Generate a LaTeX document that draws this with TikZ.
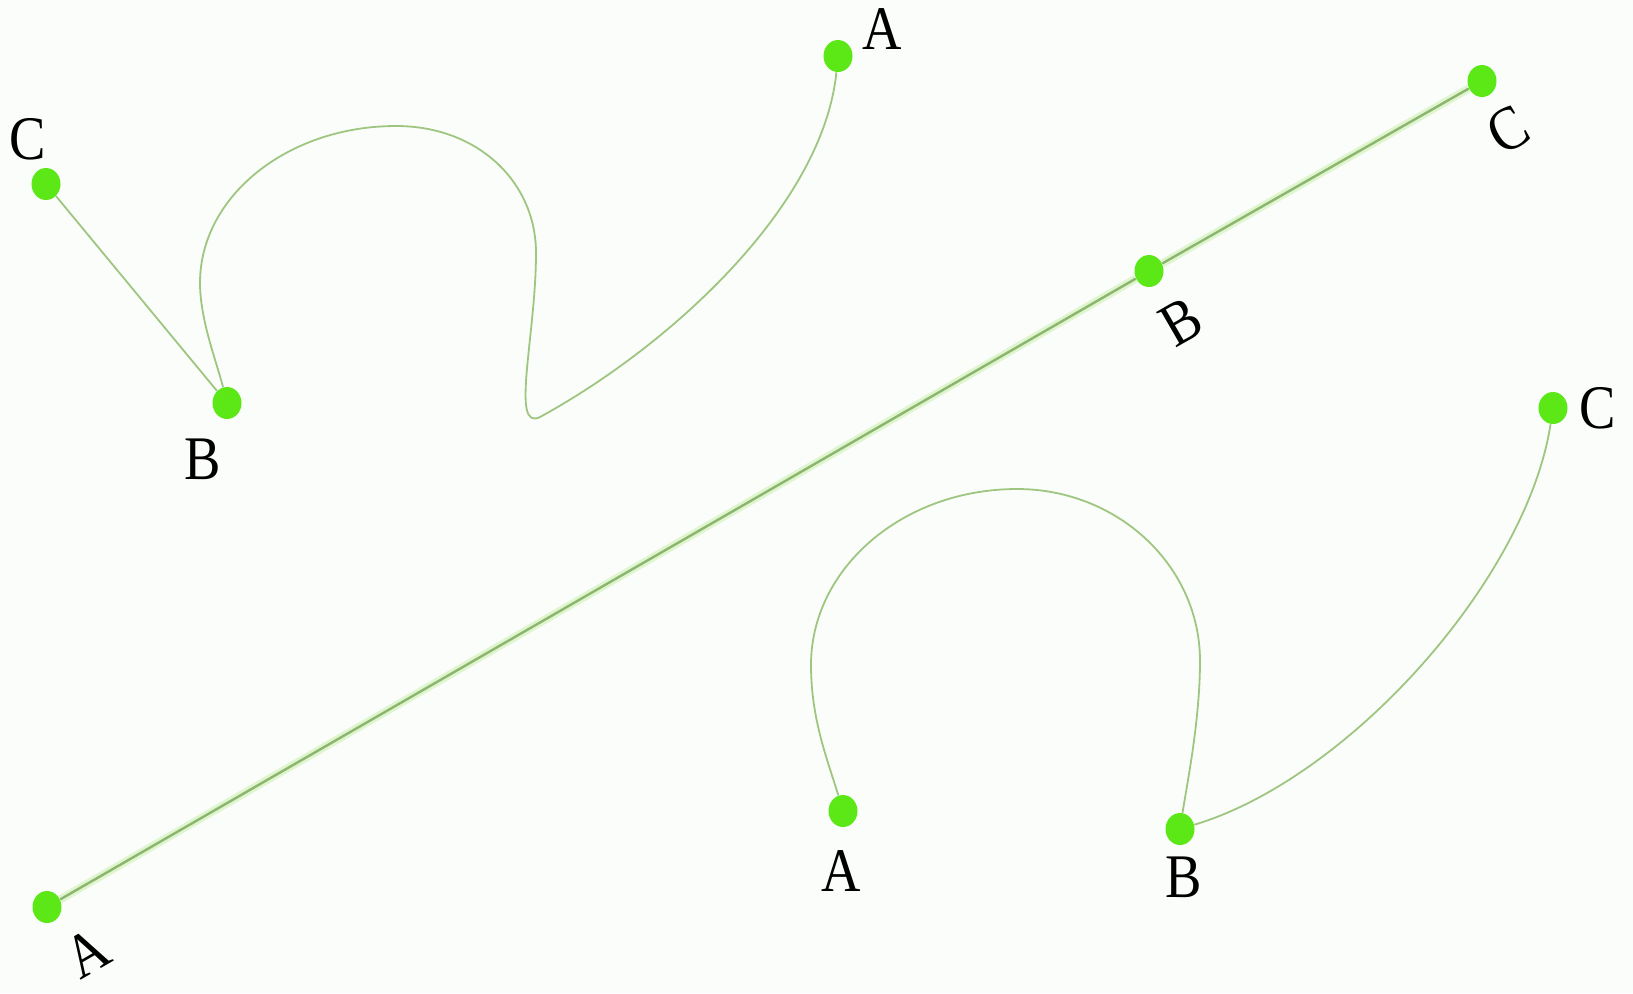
\documentclass[tikz,border=0pt]{standalone}
\usepackage{fontspec}
\usepackage{graphicx}
\setmainfont{Liberation Serif}
\usetikzlibrary{shapes.geometric}
\definecolor{dotgreen}{RGB}{92,232,22}
\definecolor{linegreen}{RGB}{158,198,128}
\definecolor{longgreen}{RGB}{140,182,112}
\definecolor{glowgreen}{RGB}{222,245,205}
\definecolor{bgcol}{RGB}{251,253,250}
\newcommand{\lbltext}[1]{\scalebox{0.88}[1]{#1}}
\begin{document}
\begin{tikzpicture}[x=0.5pt,y=-0.5pt,
  pt/.style={ellipse,fill=dotgreen,draw=none,minimum width=14.5pt,minimum height=16pt,inner sep=0pt},
  lab/.style={inner sep=0pt,font=\fontsize{31}{36}\selectfont,text=black},
  curveline/.style={draw=linegreen,line width=0.9pt},
  glowline/.style={draw=glowgreen,line width=4pt},
  longline/.style={draw=longgreen,line width=1.2pt}]
\fill[bgcol] (0,0) rectangle (1633,993);
\useasboundingbox (0,0) rectangle (1633,993);

% ---- top-left group
\node[pt] (tlC) at (46,184) {};
\node[pt] (tlB) at (227,403) {};
\node[pt] (tlA) at (838,56) {};
\coordinate (tlL) at (200,283);
\coordinate (tlT) at (396,126);
\coordinate (tlR) at (536,253);
\coordinate (tlD) at (540,417);
\node[lab] (tlClab) at (28,139) {\lbltext{C}};
\node[lab] (tlBlab) at (203,459) {\lbltext{B}};
\node[lab] (tlAlab) at (882,29) {\lbltext{A}};
\draw[curveline] (tlC) -- (tlB);
\draw[curveline] (tlB) .. controls (217,363) and (200,320) .. (tlL)
  .. controls (200,196) and (288,126) .. (tlT)
  .. controls (478,126) and (536,182) .. (tlR)
  .. controls (536,335) and (510,432) .. (tlD)
  .. controls (670,346) and (823,206) .. (tlA);

% ---- long straight line group
\node[pt] (lnA) at (47,907) {};
\node[pt] (lnB) at (1149,271) {};
\node[pt] (lnC) at (1482,81) {};
\draw[glowline] (lnA) -- (lnB);
\draw[glowline] (lnB) -- (lnC);
\draw[longline] (lnA) -- (lnB);
\draw[longline] (lnB) -- (lnC);
\node[lab,rotate=30] (lnAlab) at (87,953) {\lbltext{A}};
\node[lab,rotate=30] (lnBlab) at (1181,322) {\lbltext{B}};
\node[lab,rotate=30] (lnClab) at (1508,130) {\lbltext{C}};

% ---- bottom-right group
\node[pt] (brA) at (843,811) {};
\node[pt] (brB) at (1180,829) {};
\node[pt] (brC) at (1553,408) {};
\coordinate (brL) at (811,665);
\coordinate (brT) at (1017,489);
\coordinate (brR) at (1200,661);
\node[lab] (brAlab) at (841,871) {\lbltext{A}};
\node[lab] (brBlab) at (1184,877) {\lbltext{B}};
\node[lab] (brClab) at (1598,408) {\lbltext{C}};
\draw[curveline] (brA) .. controls (828,761) and (811,720) .. (brL)
  .. controls (811,568) and (903,489) .. (brT)
  .. controls (1118,489) and (1200,566) .. (brR)
  .. controls (1200,720) and (1187,784) .. (brB);
\draw[curveline] (brB) .. controls (1350,778) and (1527,578) .. (brC);
\end{tikzpicture}
\end{document}
